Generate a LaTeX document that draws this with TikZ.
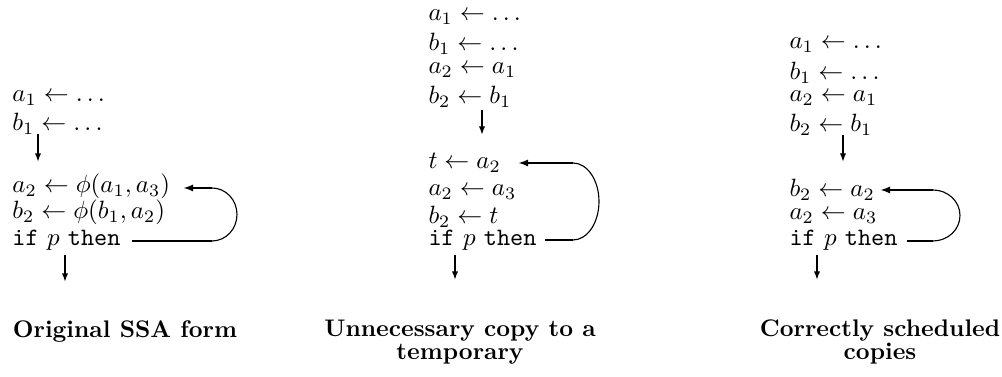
\documentclass[tikz,border=0pt]{standalone}
\usetikzlibrary{arrows.meta}
\begin{document}
\begin{tikzpicture}[x=0.4pt,y=-0.4pt,
  codeline/.style={anchor=base west,inner sep=0pt,text height=6pt,text depth=1.4pt,font=\fontsize{10}{12}\selectfont},
  captxt/.style={anchor=base,inner sep=0pt,font=\fontsize{9.6}{11}\bfseries},
  flowarr/.style={line width=0.8pt,-{Latex[length=3.4pt,width=2.5pt]}},
  loopline/.style={line width=1.1pt},
  looparr/.style={line width=1.1pt,-{Latex[length=4pt,width=2.8pt]}},
  arcline/.style={line width=0.45pt}]
\useasboundingbox (0,0) rectangle (1002,377);
% ---------- panel 1
\node[codeline] (pA1) at (12,102)  {$a_1 \leftarrow \ldots$};
\node[codeline] (pB1) at (12,131) {$b_1 \leftarrow \ldots$};
\node[codeline] (pA2) at (12,193) {$a_2 \leftarrow \phi(a_1,a_3)$};
\node[codeline] (pB2) at (12,219) {$b_2 \leftarrow \phi(b_1,a_2)$};
\node[codeline] (pIF) at (12,246) {\texttt{if} $p$ \texttt{then}};
\node[captxt] (pCap) at (125,338) {Original SSA form};
\coordinate (pX1) at (38,0);
\coordinate (pX2) at (65,0);
\draw[flowarr] (pB1.base -| pX1) ++(0,3) -- ++(0,28);
\draw[flowarr] (pIF.base -| pX2) ++(0,9) -- ++(0,27);
\draw[loopline] (pIF.base -| 132,0) ++(0,-5) -- ++(80,0) coordinate (pL);
\draw[arcline] (pL) arc[start angle=-90,end angle=90,x radius=10pt,y radius=10.6pt] coordinate (pT);
\draw[looparr] (pT) -- (pT -| 183,0);
% ---------- panel 2
\node[codeline] (qA1) at (428,21)  {$a_1 \leftarrow \ldots$};
\node[codeline] (qB1) at (428,51)  {$b_1 \leftarrow \ldots$};
\node[codeline] (qA2) at (428,74)  {$a_2 \leftarrow a_1$};
\node[codeline] (qB2) at (428,104) {$b_2 \leftarrow b_1$};
\node[codeline] (qT)  at (428,169) {$t \leftarrow a_2$};
\node[codeline] (qA3) at (428,196) {$a_2 \leftarrow a_3$};
\node[codeline] (qB3) at (428,224) {$b_2 \leftarrow t$};
\node[codeline] (qIF) at (428,246) {\texttt{if} $p$ \texttt{then}};
\node[captxt] (qCapA) at (460,337) {Unnecessary copy to a};
\node[captxt] (qCapB) at (460,360) {temporary};
\coordinate (qX1) at (482,0);
\coordinate (qX2) at (455,0);
\draw[flowarr] (qB2.base -| qX1) ++(0,6) -- ++(0,25);
\draw[flowarr] (qIF.base -| qX2) ++(0,9) -- ++(0,25);
\draw[loopline] (qIF.base -| 545,0) ++(0,-6) -- ++(28,0) coordinate (qL);
\draw[arcline] (qL) arc[start angle=-90,end angle=90,x radius=10.4pt,y radius=15.4pt] coordinate (qTop);
\draw[looparr] (qTop) -- (qTop -| 518,0);
% ---------- panel 3
\node[codeline] (rA1) at (789,49)  {$a_1 \leftarrow \ldots$};
\node[codeline] (rB1) at (789,80)  {$b_1 \leftarrow \ldots$};
\node[codeline] (rA2) at (789,102) {$a_2 \leftarrow a_1$};
\node[codeline] (rB2) at (789,132) {$b_2 \leftarrow b_1$};
\node[codeline] (rB3) at (789,197) {$b_2 \leftarrow a_2$};
\node[codeline] (rA3) at (789,220) {$a_2 \leftarrow a_3$};
\node[codeline] (rIF) at (789,246) {\texttt{if} $p$ \texttt{then}};
\node[captxt] (rCapA) at (880,337) {Correctly scheduled};
\node[captxt] (rCapB) at (880,360) {copies};
\coordinate (rX1) at (843,0);
\coordinate (rX2) at (817,0);
\draw[flowarr] (rB2.base -| rX1) ++(0,3) -- ++(0,27);
\draw[flowarr] (rIF.base -| rX2) ++(0,9) -- ++(0,25);
\draw[loopline] (rIF.base -| 907,0) ++(0,-5) -- ++(26,0) coordinate (rL);
\draw[arcline] (rL) arc[start angle=-90,end angle=90,x radius=10.8pt,y radius=10.2pt] coordinate (rTop);
\draw[looparr] (rTop) -- (rTop -| 880,0);
\end{tikzpicture}
\end{document}
